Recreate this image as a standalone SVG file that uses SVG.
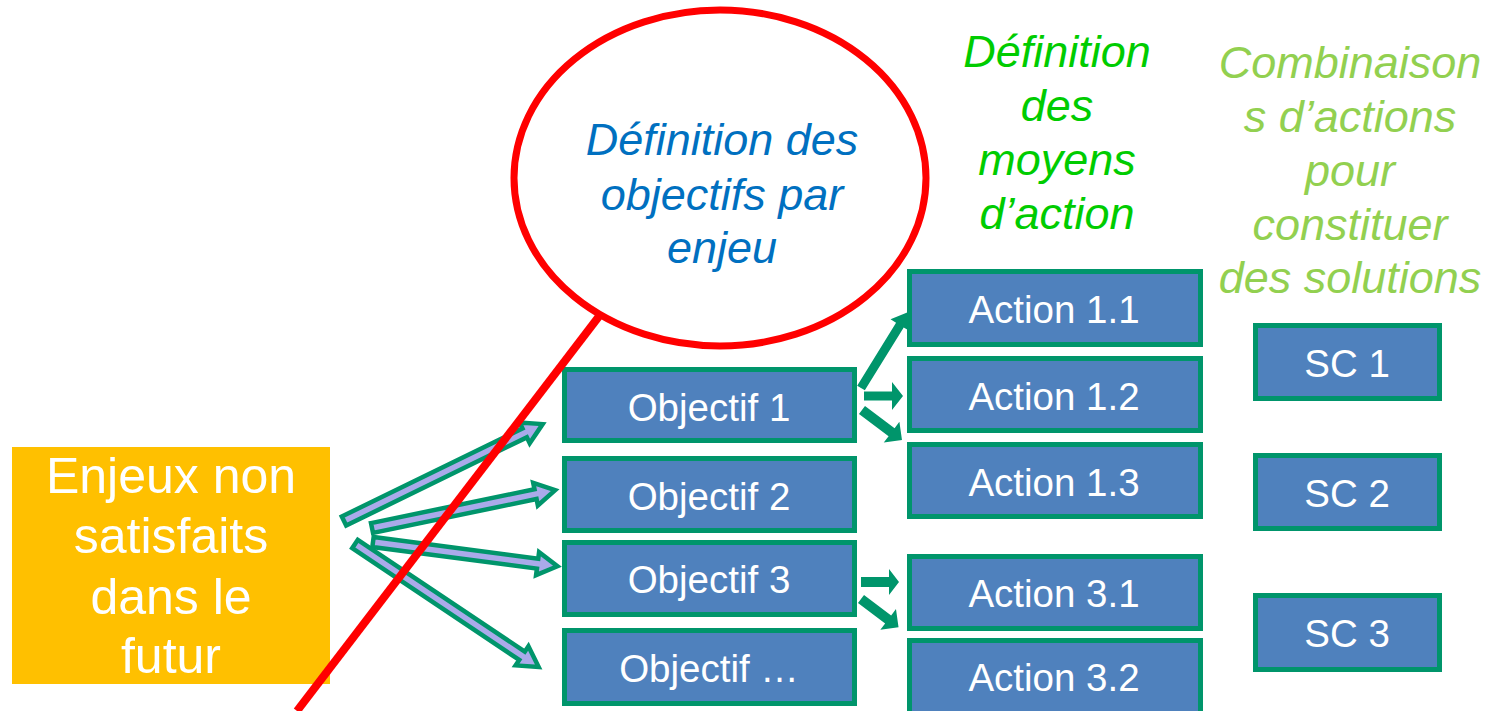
<svg xmlns="http://www.w3.org/2000/svg" width="1499" height="711" viewBox="0 0 1499 711">
<style>
.box{fill:#4F81BD;stroke:#00956B;stroke-width:5}
.lbl{font-family:"Liberation Sans",Arial,sans-serif;font-size:38.5px;fill:#FFFFFF;text-anchor:middle}
.big{font-family:"Liberation Sans",Arial,sans-serif;font-size:50px;fill:#FFFFFF;text-anchor:middle}
.hd{font-family:"Liberation Sans",Arial,sans-serif;font-size:45px;font-style:italic;text-anchor:middle}
.lav{fill:#AAAAEA;stroke:#00956B;stroke-width:4.5;stroke-linejoin:miter}
.sol{fill:#00956B}
</style>
<rect width="1499" height="711" fill="#FFFFFF"/>

<g id="enjeux">
<rect x="12" y="447" width="318" height="237" fill="#FFC000"/>
<text class="big" x="171" y="493">Enjeux non</text>
<text class="big" x="171" y="553">satisfaits</text>
<text class="big" x="171" y="614">dans le</text>
<text class="big" x="171" y="673">futur</text>
</g>

<g id="obj1"><rect class="box" x="564.5" y="369.5" width="290" height="71"/><text class="lbl" x="709" y="421">Objectif 1</text></g>
<g id="obj2"><rect class="box" x="564.5" y="458.5" width="290" height="72"/><text class="lbl" x="709" y="510">Objectif 2</text></g>
<g id="obj3"><rect class="box" x="564.5" y="542.5" width="290" height="72"/><text class="lbl" x="709" y="593">Objectif 3</text></g>
<g id="obj4"><rect class="box" x="564.5" y="630.5" width="290" height="73"/><text class="lbl" x="709" y="682">Objectif …</text></g>

<g id="act11"><rect class="box" x="909.5" y="271.5" width="291" height="73"/><text class="lbl" x="1054" y="323">Action 1.1</text></g>
<g id="act12"><rect class="box" x="909.5" y="358.5" width="291" height="72"/><text class="lbl" x="1054" y="410">Action 1.2</text></g>
<g id="act13"><rect class="box" x="909.5" y="444.5" width="291" height="72"/><text class="lbl" x="1054" y="496">Action 1.3</text></g>
<g id="act31"><rect class="box" x="909.5" y="556.5" width="291" height="72"/><text class="lbl" x="1054" y="607">Action 3.1</text></g>
<g id="act32"><rect class="box" x="909.5" y="640.5" width="291" height="73"/><text class="lbl" x="1054" y="691">Action 3.2</text></g>

<g id="sc1"><rect class="box" x="1255.5" y="325.5" width="184" height="73"/><text class="lbl" x="1347" y="377">SC 1</text></g>
<g id="sc2"><rect class="box" x="1255.5" y="455.5" width="184" height="73"/><text class="lbl" x="1347" y="507">SC 2</text></g>
<g id="sc3"><rect class="box" x="1255.5" y="595.5" width="184" height="74"/><text class="lbl" x="1347" y="647">SC 3</text></g>

<g id="head-moyens">
<text class="hd" fill="#00CC00" x="1057" y="67">Définition</text>
<text class="hd" fill="#00CC00" x="1057" y="121">des</text>
<text class="hd" fill="#00CC00" x="1057" y="175">moyens</text>
<text class="hd" fill="#00CC00" x="1057" y="229">d’action</text>
</g>
<g id="head-solutions">
<text class="hd" fill="#92D050" x="1350" y="78">Combinaison</text>
<text class="hd" fill="#92D050" x="1350" y="132">s d’actions</text>
<text class="hd" fill="#92D050" x="1350" y="186">pour</text>
<text class="hd" fill="#92D050" x="1350" y="240">constituer</text>
<text class="hd" fill="#92D050" x="1350" y="293">des solutions</text>
</g>

<g id="connectors">
<polygon class="lav" transform="translate(344,521) rotate(-26)" points="0,-5 201,-5 201,-11.5 221,0 201,11.5 201,5 0,5"/>
<polygon class="lav" transform="translate(372,528) rotate(-11.7)" points="0,-5 167,-5 167,-11.5 187,0 167,11.5 167,5 0,5"/>
<polygon class="lav" transform="translate(373,542) rotate(7.5)" points="0,-5 166,-5 166,-11.5 186,0 166,11.5 166,5 0,5"/>
<polygon class="lav" transform="translate(355,544) rotate(33.8)" points="0,-5 201,-5 201,-11.5 221,0 201,11.5 201,5 0,5"/>
<polygon class="sol" transform="translate(861,388) rotate(-58.3)" points="0,-4.5 74,-4.5 74,-11 89,0 74,11 74,4.5 0,4.5"/>
<polygon class="sol" transform="translate(864,396)" points="0,-4.5 28,-4.5 28,-14 39,0 28,14 28,4.5 0,4.5"/>
<polygon class="sol" transform="translate(862,410) rotate(36.9)" points="0,-5 37,-5 37,-13 50,0 37,13 37,5 0,5"/>
<polygon class="sol" transform="translate(861,582)" points="0,-5 28,-5 28,-13 38,0 28,13 28,5 0,5"/>
<polygon class="sol" transform="translate(861,599) rotate(37)" points="0,-5 34,-5 34,-13 47,0 34,13 34,5 0,5"/>
</g>

<g id="callout">
<ellipse cx="720" cy="178" rx="206" ry="168" fill="none" stroke="#FF0000" stroke-width="7"/>
<line x1="600" y1="315" x2="297" y2="711" stroke="#FF0000" stroke-width="8"/>
<text class="hd" fill="#0070C0" x="722" y="155">Définition des</text>
<text class="hd" fill="#0070C0" x="722" y="210">objectifs par</text>
<text class="hd" fill="#0070C0" x="722" y="263">enjeu</text>
</g>
</svg>
